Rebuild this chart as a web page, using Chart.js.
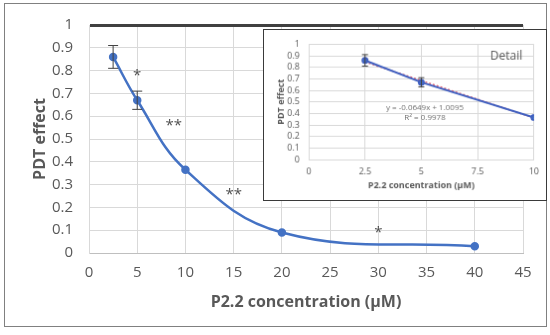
<!DOCTYPE html>
<html>
<head>
<meta charset="utf-8">
<script src="https://cdn.jsdelivr.net/npm/chart.js@4"></script>
<style>
  body { margin: 0; background: #fff; }
  #wrap { position: relative; width: 550px; height: 335px; }
  #frame { position: absolute; left: 4px; top: 3px; width: 541px; height: 322px; border: 1.5px solid #808080; }
  #main { position: absolute; left: 0; top: 0; }
  #inset { position: absolute; left: 263px; top: 29px; background: #fff; border: 1.5px solid #3a3a3a; box-sizing: border-box; }
</style>
</head>
<body>
<div id="wrap">
  <div id="frame"></div>
  <canvas id="main" width="550" height="335"></canvas>
  <canvas id="inset" width="284" height="172"></canvas>
</div>
<script>
// data
const conc = [2.5, 5, 10, 20, 40];
const effect = [0.86, 0.67, 0.365, 0.09, 0.03];
const errs = [0.05, 0.04, 0, 0, 0];

const starX = [5, 8.8, 15, 30];
const starY = [0.79, 0.57, 0.27, 0.10];
const starText = ['*', '**', '**', '*'];

const detailConc = [2.5, 5, 10];
const detailEffect = [0.86, 0.67, 0.365];
const detailErrs = [0.05, 0.04, 0];
const trendX = [2.5, 10];
const trendY = [0.847, 0.3605];

const blue = '#4472C4';
const gridGray = '#d9d9d9';
const textGray = '#595959';
const font = '"Open Sans", Lato, sans-serif';

function pts(xs, ys) {
  return xs.map((x, i) => ({ x: x, y: ys[i] }));
}

function tickText(v) {
  return String(Math.round(v * 10) / 10);
}

// error bars
const errorBars = {
  id: 'errorBars',
  afterDatasetsDraw(chart, args, opts) {
    const ctx = chart.ctx;
    const xs = chart.scales.x, ys = chart.scales.y;
    ctx.save();
    ctx.strokeStyle = '#404040';
    ctx.lineWidth = 1;
    opts.x.forEach((x, i) => {
      const e = opts.e[i];
      if (!e) return;
      const px = xs.getPixelForValue(x);
      const top = ys.getPixelForValue(opts.y[i] + e);
      const bot = ys.getPixelForValue(opts.y[i] - e);
      const w = opts.cap;
      ctx.beginPath();
      ctx.moveTo(px, top); ctx.lineTo(px, bot);
      ctx.moveTo(px - w, top); ctx.lineTo(px + w, top);
      ctx.moveTo(px - w, bot); ctx.lineTo(px + w, bot);
      ctx.stroke();
    });
    ctx.restore();
  }
};

// axis titles, stars and notes
const labels = {
  id: 'labels',
  afterDraw(chart, args, opts) {
    const ctx = chart.ctx;
    const xs = chart.scales.x, ys = chart.scales.y;
    const a = chart.chartArea;
    ctx.save();
    ctx.fillStyle = textGray;
    ctx.textAlign = 'center';
    ctx.textBaseline = 'middle';
    ctx.font = 'bold ' + opts.titleSize + 'px ' + font;
    ctx.fillText(opts.xTitle, (a.left + a.right) / 2, opts.xTitleY);
    ctx.save();
    ctx.translate(opts.yTitleX, (a.top + a.bottom) / 2);
    ctx.rotate(-Math.PI / 2);
    ctx.fillText(opts.yTitle, 0, 0);
    ctx.restore();
    if (opts.stars) {
      ctx.font = '15px ' + font;
      ctx.fillStyle = '#505050';
      starX.forEach((x, i) => {
        ctx.fillText(starText[i], xs.getPixelForValue(x), ys.getPixelForValue(starY[i]) + 3);
      });
    }
    (opts.notes || []).forEach(n => {
      ctx.font = n.size + 'px ' + font;
      ctx.fillStyle = n.color;
      ctx.fillText(n.text, n.x, n.y);
    });
    ctx.restore();
  }
};

new Chart(document.getElementById('main'), {
  type: 'scatter',
  data: {
    datasets: [{
      data: pts(conc, effect),
      showLine: true,
      borderColor: blue,
      backgroundColor: blue,
      borderWidth: 2.5,
      pointRadius: 3,
      tension: 0.4
    }]
  },
  options: {
    responsive: false,
    animation: false,
    layout: { padding: { left: 0, top: 19, right: 27, bottom: 0 } },
    plugins: {
      legend: { display: false },
      tooltip: { enabled: false },
      errorBars: { x: conc, y: effect, e: errs, cap: 5 },
      labels: {
        xTitle: 'P2.2 concentration (\u03bcM)', xTitleY: 302,
        yTitle: 'PDT effect', yTitleX: 40, titleSize: 16, stars: true
      }
    },
    scales: {
      x: {
        type: 'linear', min: 0, max: 45,
        afterFit: s => { s.height = 335 - 253; },
        ticks: { stepSize: 5, color: textGray, font: { family: font, size: 15 }, padding: 11 },
        grid: { color: gridGray, tickLength: 0 },
        border: { color: '#bfbfbf' }
      },
      y: {
        min: 0, max: 1,
        afterFit: s => { s.width = 89; },
        ticks: { stepSize: 0.1, autoSkip: false, callback: tickText, color: textGray, font: { family: font, size: 15 }, padding: 16 },
        grid: {
          color: c => c.tick && c.tick.value === 1 ? '#404040' : gridGray,
          lineWidth: c => c.tick && c.tick.value === 1 ? 3 : 1,
          tickLength: 0
        },
        border: { color: gridGray }
      }
    }
  },
  plugins: [errorBars, labels]
});

new Chart(document.getElementById('inset'), {
  type: 'scatter',
  data: {
    datasets: [{
      data: pts(trendX, trendY),
      showLine: true,
      borderColor: '#e06070',
      borderWidth: 1.5,
      borderDash: [2, 2],
      pointRadius: 0,
      order: 2
    }, {
      data: pts(detailConc, detailEffect),
      showLine: true,
      borderColor: '#4060c0',
      backgroundColor: blue,
      borderWidth: 2,
      pointRadius: 2.5,
      order: 1
    }]
  },
  options: {
    responsive: false,
    animation: false,
    layout: { padding: { left: 0, top: 8, right: 11, bottom: 0 } },
    plugins: {
      legend: { display: false },
      tooltip: { enabled: false },
      errorBars: { x: detailConc, y: detailEffect, e: detailErrs, cap: 3 },
      labels: {
        xTitle: 'P2.2 concentration (\u03bcM)', xTitleY: 157,
        yTitle: 'PDT effect', yTitleX: 17, titleSize: 9, stars: false,
        notes: [
          { text: 'Detail', x: 244, y: 27, size: 12, color: textGray },
          { text: 'y = -0.0649x + 1.0095', x: 162, y: 79, size: 8, color: '#707070' },
          { text: 'R\u00b2 = 0.9978', x: 162, y: 89, size: 8, color: '#707070' }
        ]
      }
    },
    scales: {
      x: {
        type: 'linear', min: 0, max: 10,
        afterFit: s => { s.height = 172 - 131; },
        ticks: { stepSize: 2.5, color: textGray, font: { family: font, size: 9 }, padding: 7 },
        grid: { color: gridGray, tickLength: 0 },
        border: { color: gridGray }
      },
      y: {
        min: 0, max: 1,
        afterFit: s => { s.width = 45; },
        ticks: { stepSize: 0.1, autoSkip: false, callback: tickText, color: textGray, font: { family: font, size: 9 }, padding: 9 },
        grid: { color: gridGray, tickLength: 0 },
        border: { color: gridGray }
      }
    }
  },
  plugins: [errorBars, labels]
});
</script>
</body>
</html>
